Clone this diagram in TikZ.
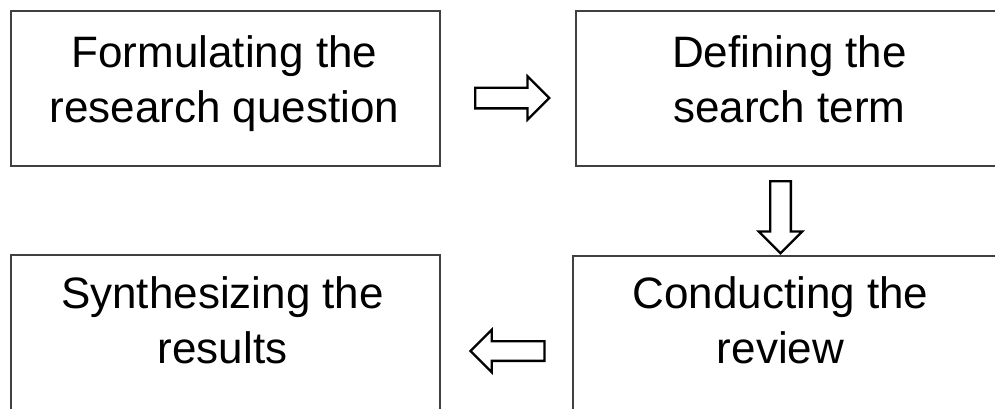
\documentclass[tikz,border=0pt]{standalone}
\usepackage{fontspec}
\setmainfont{Liberation Sans}
\usetikzlibrary{shapes.arrows,calc}
\definecolor{boxgray}{HTML}{404040}
\begin{document}
\begin{tikzpicture}[x=1pt,y=-1pt,
  stepbox/.style={draw=boxgray, line width=1.8pt, rectangle, inner sep=0pt,
    minimum width=429pt, minimum height=155pt},
  lbl/.style={align=center, inner sep=0pt, font=\fontsize{44}{55}\selectfont},
  blockarrow/.style={single arrow, draw=black, line width=2.3pt, fill=white,
    inner xsep=0pt, inner ysep=9.2pt, single arrow head extend=11.3pt,
    minimum height=74pt, minimum width=0pt}]
\useasboundingbox (0,0) rectangle (995,408);
\clip (0,0) rectangle (995,408);
\fill[white] (0,0) rectangle (995,408);

\node[stepbox] (b1) at (225.5,88.5) {};
\node[stepbox, minimum width=427pt] (b2) at (789.5,88.5) {};
\node[stepbox] (b3) at (225.5,332.5) {};
\node[stepbox, minimum width=427pt] (b4) at (786.5,333.5) {};

\node[lbl] (t1) at ($(b1.center)+(-1,-5)$) {Formulating the\\research question};
\node[lbl] (t2) at ($(b2.center)+(0,-9.5)$) {Defining the\\search term};
\node[lbl] (t3) at ($(b3.center)+(-3,-12.5)$) {Synthesizing the\\results};
\node[lbl] (t4) at ($(b4.center)+(-6,-13.5)$) {Conducting the\\review};

\node[blockarrow] (a1) at ($(b1.east)!0.5!(b2.west)+(-1,9.5)$) {};
\node[blockarrow, rotate=-90, minimum height=72pt] (a2) at ($(b2.south)!0.5!(b4.north)+(-7.5,1)$) {};
\node[blockarrow, rotate=180, minimum height=74pt, inner ysep=8.7pt] (a3) at ($(b3.east)!0.5!(b4.west)+(6,18)$) {};
\end{tikzpicture}
\end{document}
